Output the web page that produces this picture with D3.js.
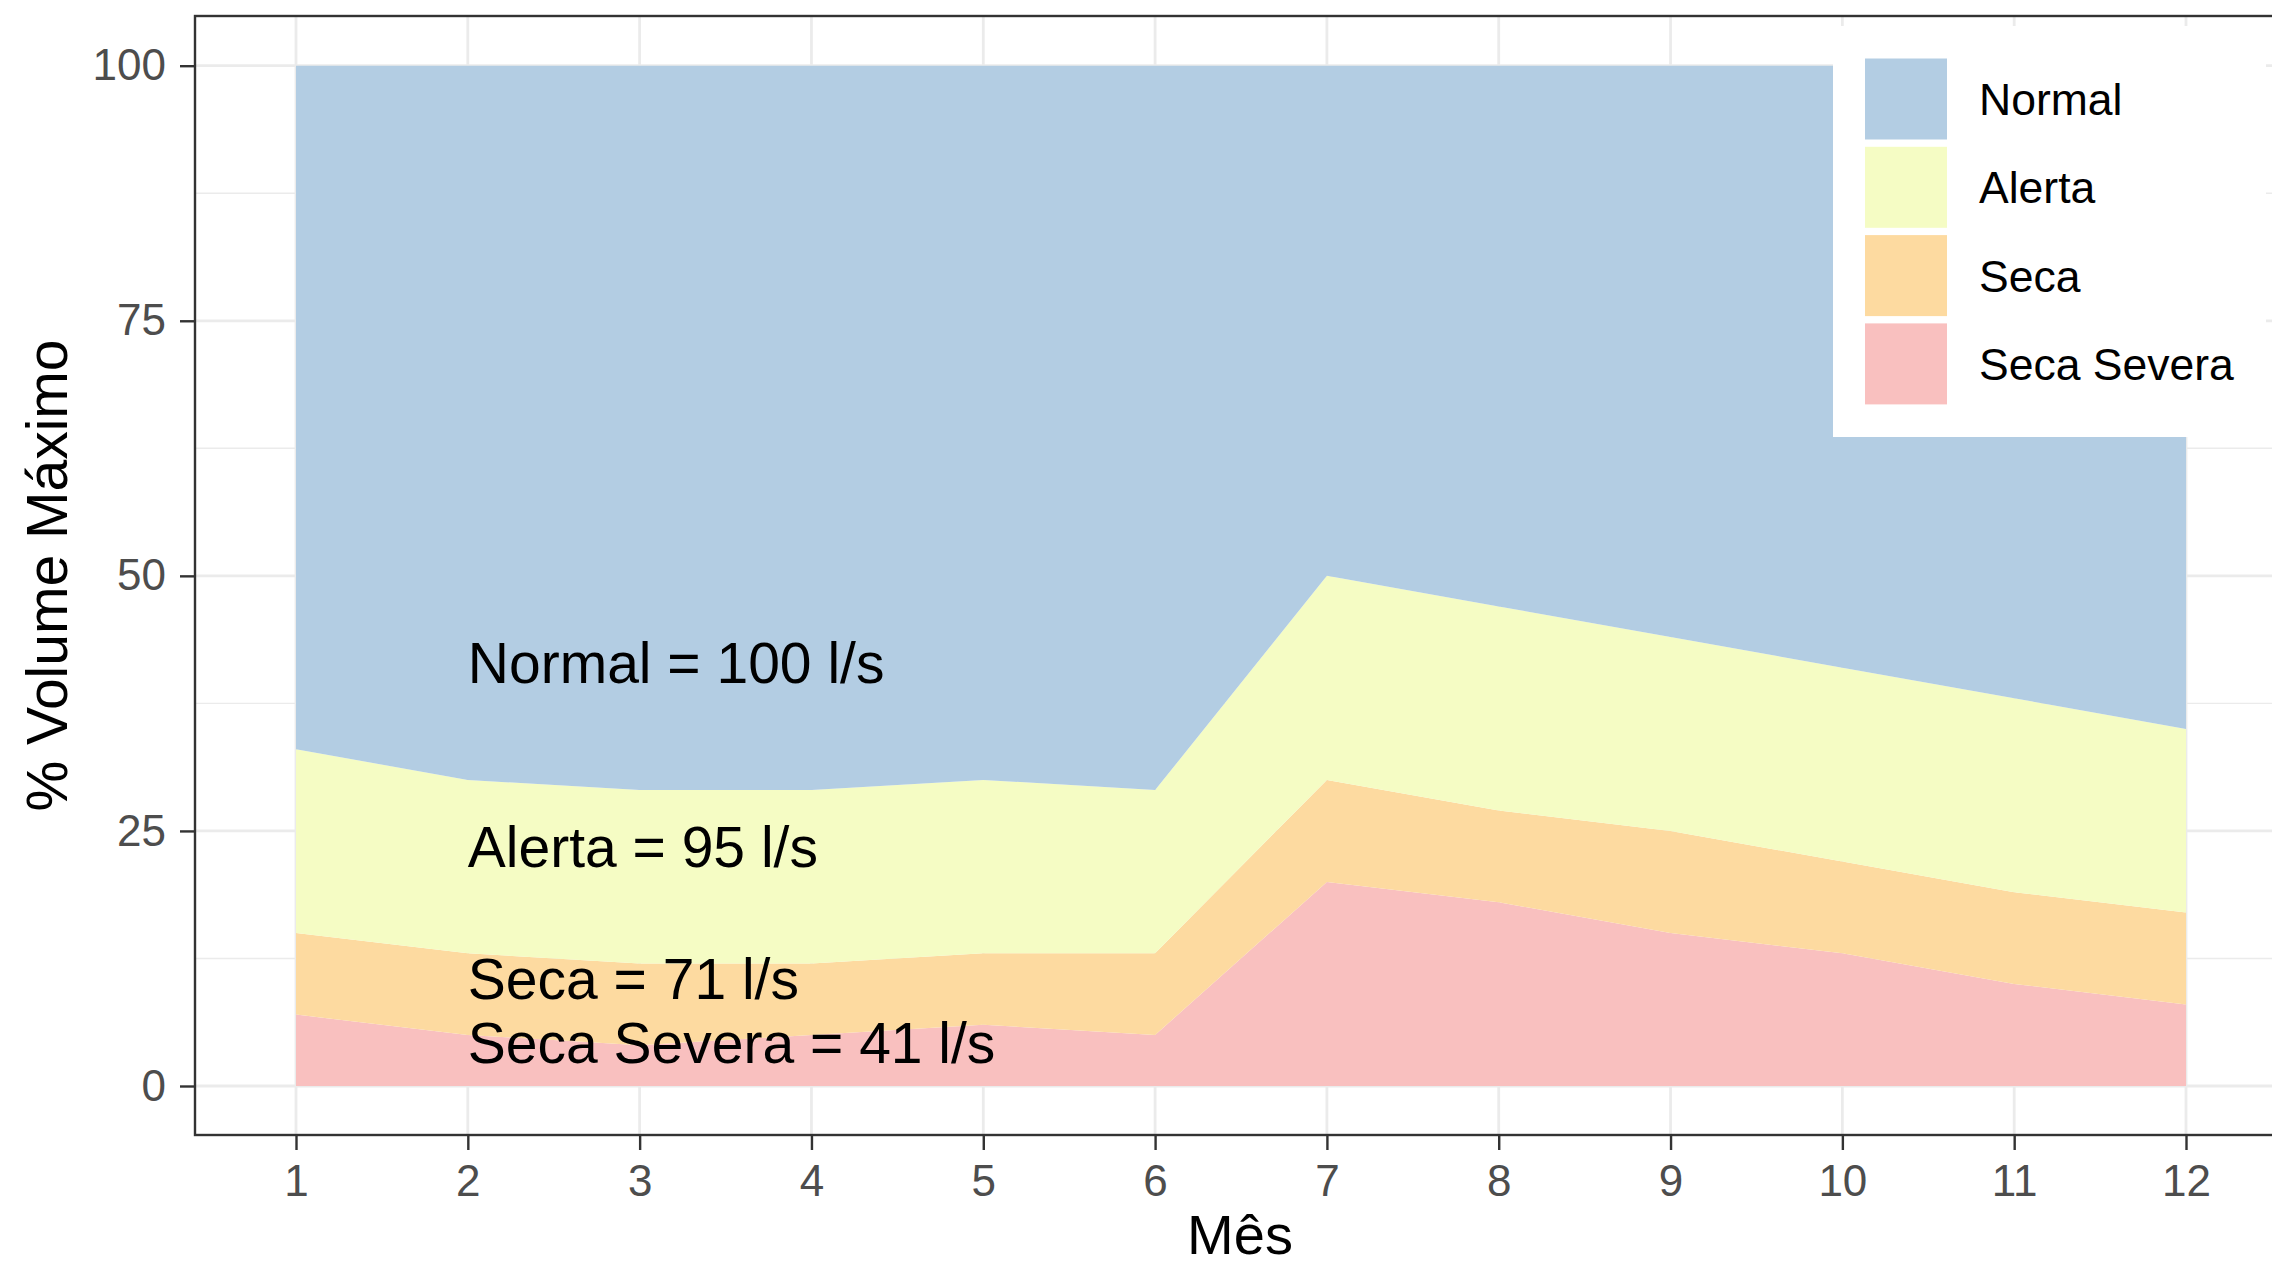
<!DOCTYPE html>
<html>
<head>
<meta charset="utf-8">
<script src="https://cdn.jsdelivr.net/npm/d3@7"></script>
<style>
  body { margin: 0; background: #fff; }
  svg { display: block; font-family: "Liberation Sans", Arial, sans-serif; }
</style>
</head>
<body>
<div id="chart"></div>
<script>
// chart data
const months = [1, 2, 3, 4, 5, 6, 7, 8, 9, 10, 11, 12];
const secaSevera = [7, 5, 4, 5, 6, 5, 20, 18, 15, 13, 10, 8];
const seca = [8, 8, 8, 7, 7, 8, 10, 9, 10, 9, 9, 9];
const alerta = [18, 17, 17, 17, 17, 16, 20, 20, 19, 19, 19, 18];
const normal = [67, 70, 71, 71, 70, 71, 50, 53, 56, 59, 62, 65];

const categories = ["Normal", "Alerta", "Seca", "Seca Severa"];
const colors = ["#b3cde3", "#f5fcc4", "#fddaa0", "#f9c0bf"];
const yTicks = [0, 25, 50, 75, 100];
const yMinor = [12.5, 37.5, 62.5, 87.5];

// annotations inside the plot
const labelTexts = ["Normal = 100 l/s", "Alerta = 95 l/s", "Seca = 71 l/s", "Seca Severa = 41 l/s"];
const labelX = 2;
const labelY = [41.5, 23.4, 10.5, 4.2];

// dimensions
const W = 2272, H = 1265;
const panel = { left: 195, right: 2285, top: 16, bottom: 1135 };

const svg = d3.select("#chart")
    .append("svg")
    .attr("width", W)
    .attr("height", H);

const x = d3.scaleLinear()
    .domain([1, 12])
    .range([296, 2186]);

const y = d3.scaleLinear()
    .domain([0, 100])
    .range([1086, 65.7]);

const rows = months.map((m, i) => ({
    month: m,
    "Seca Severa": secaSevera[i],
    "Seca": seca[i],
    "Alerta": alerta[i],
    "Normal": normal[i]
}));

const color = d3.scaleOrdinal().domain(categories).range(colors);

// background grid
const grid = svg.append("g");
grid.selectAll(".minor")
    .data(yMinor)
    .join("line")
    .attr("x1", panel.left).attr("x2", panel.right)
    .attr("y1", d => y(d)).attr("y2", d => y(d))
    .attr("stroke", "#ebebeb")
    .attr("stroke-width", 1.4);
grid.selectAll(".hmajor")
    .data(yTicks)
    .join("line")
    .attr("x1", panel.left).attr("x2", panel.right)
    .attr("y1", d => y(d)).attr("y2", d => y(d))
    .attr("stroke", "#ebebeb")
    .attr("stroke-width", 2.8);
grid.selectAll(".vmajor")
    .data(months)
    .join("line")
    .attr("y1", panel.top).attr("y2", panel.bottom)
    .attr("x1", d => x(d)).attr("x2", d => x(d))
    .attr("stroke", "#ebebeb")
    .attr("stroke-width", 2.8);

// stacked areas
const stack = d3.stack().keys(categories.slice().reverse());
const series = stack(rows);

const area = d3.area()
    .x(d => x(d.data.month))
    .y0(d => y(d[0]))
    .y1(d => y(d[1]));

svg.append("g")
    .selectAll("path")
    .data(series)
    .join("path")
    .attr("fill", d => color(d.key))
    .attr("d", area);

// annotations
svg.append("g")
    .selectAll("text")
    .data(labelTexts)
    .join("text")
    .attr("x", x(labelX))
    .attr("y", (d, i) => y(labelY[i]))
    .attr("dy", "0.35em")
    .style("font-size", "57px")
    .attr("fill", "#000")
    .text(d => d);

// legend
const legend = svg.append("g");
legend.append("rect")
    .attr("x", 1833).attr("y", 26)
    .attr("width", 433).attr("height", 411)
    .attr("fill", "#fff");
const item = legend.selectAll(".item")
    .data(categories)
    .join("g")
    .attr("transform", (d, i) => `translate(1865,${58.5 + i * 88.3})`);
item.append("rect")
    .attr("width", 82).attr("height", 81)
    .attr("fill", d => color(d));
item.append("text")
    .attr("x", 114)
    .attr("y", 40.5)
    .attr("dy", "0.36em")
    .style("font-size", "44.5px")
    .attr("fill", "#000")
    .text(d => d);

// panel border
svg.append("rect")
    .attr("x", panel.left).attr("y", panel.top)
    .attr("width", panel.right - panel.left)
    .attr("height", panel.bottom - panel.top)
    .attr("fill", "none")
    .attr("stroke", "#333")
    .attr("stroke-width", 2.4);

// axes
const xAxis = svg.append("g")
    .attr("transform", `translate(0,${panel.bottom})`)
    .call(d3.axisBottom(x).tickValues(months).tickSize(15).tickPadding(15).tickFormat(d3.format("d")));
const yAxis = svg.append("g")
    .attr("transform", `translate(${panel.left},0)`)
    .call(d3.axisLeft(y).tickValues(yTicks).tickSize(15).tickPadding(14));

[xAxis, yAxis].forEach(a => {
    a.select(".domain").remove();
    a.selectAll(".tick line").attr("stroke", "#333").attr("stroke-width", 2.4);
    a.selectAll(".tick text")
        .attr("fill", "#4d4d4d")
        .style("font-size", "44px")
        .style("font-family", "'Liberation Sans', Arial, sans-serif");
});

// axis titles
svg.append("text")
    .attr("x", (panel.left + panel.right) / 2)
    .attr("y", 1254)
    .attr("text-anchor", "middle")
    .style("font-size", "56px")
    .text("Mês");

svg.append("text")
    .attr("transform", `translate(67,${(panel.top + panel.bottom) / 2}) rotate(-90)`)
    .attr("text-anchor", "middle")
    .style("font-size", "57px")
    .text("% Volume Máximo");
</script>
</body>
</html>
